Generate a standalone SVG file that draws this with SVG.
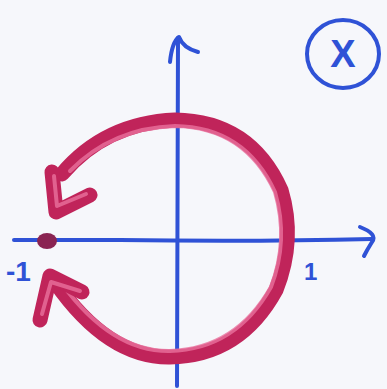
<svg xmlns="http://www.w3.org/2000/svg" width="387" height="389" viewBox="0 0 387 389">
<style>
.ax{fill:none;stroke:#2f52d6;stroke-width:4;stroke-linecap:round;stroke-linejoin:round}
.arcO{fill:none;stroke:#c0245a;stroke-width:15;stroke-linecap:round;stroke-linejoin:round}
.arcI{fill:none;stroke:#e8709c;stroke-width:4;stroke-linecap:round;stroke-linejoin:round;opacity:0.8}
.lbl{font-family:"Liberation Sans",sans-serif;fill:#2f52d6;font-weight:bold}
</style>
<rect width="387" height="389" fill="#f6f7fb"/>
<g id="axes">
<path class="ax" d="M14,240 L120,240 Q250,242 372,239"/>
<path class="ax" d="M360,227 Q378,234 372,242 Q367,250 364,256"/>
<path class="ax" d="M177,386 Q178,200 178,38"/>
<path class="ax" d="M170,62 Q172,42 179,37 Q183,48 198,52"/>
</g>
<g id="circle">
<path class="arcO" d="M62,174 Q105,123 175,120 Q250,121 281,190 Q296,240 276,290 Q240,356 170,357 Q108,358 55,282"/>
<path class="arcI" d="M70,171 Q112,128 175,126 Q245,127 275,192 Q289,240 271,287 Q236,349 170,351 Q112,352 62,284"/>
<path class="arcO" d="M52,172 L56,212 L90,195"/>
<path class="arcI" d="M54,176 L57,206 L86,194"/>
<path class="arcO" d="M40,320 L50,276 L82,292"/>
<path class="arcI" d="M42,314 L51,282 L80,291"/>
</g>
<g id="point">
<ellipse cx="47" cy="241" rx="10" ry="8" fill="#8a2452"/>
</g>
<g id="labels">
<text class="lbl" x="6" y="281" font-size="28">-1</text>
<text class="lbl" x="304" y="280" font-size="24">1</text>
</g>
<g id="badge">
<ellipse cx="343" cy="54" rx="36" ry="34" fill="none" stroke="#2f52d6" stroke-width="4"/>
<text class="lbl" x="343" y="67" font-size="38" text-anchor="middle">X</text>
</g>
</svg>
